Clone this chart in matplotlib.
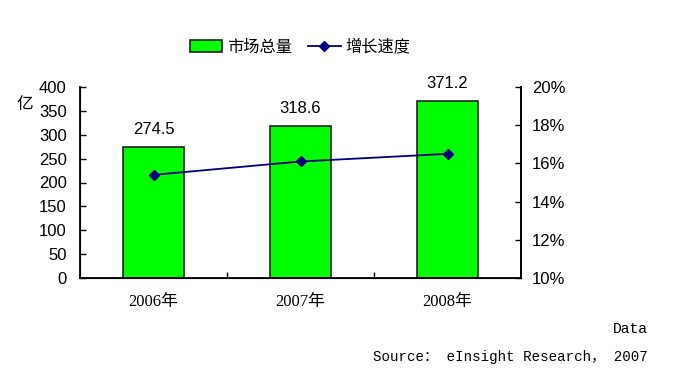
import numpy as np
import matplotlib
matplotlib.use('Agg')
import matplotlib.pyplot as plt
from matplotlib.ticker import FuncFormatter

# data
years = ['2006年', '2007年', '2008年']
market_total = [274.5, 318.6, 371.2]   # 亿
growth_rate = [15.4, 16.1, 16.5]       # %

sans = ['Liberation Sans', 'Noto Sans CJK SC']
cjk = ['Noto Sans CJK SC', 'DejaVu Sans']
serif = ['Liberation Serif', 'Noto Sans CJK SC']
mono = ['Liberation Mono', 'Noto Sans CJK SC']

plt.rcParams['font.family'] = sans

fig = plt.figure(figsize=(6.76, 3.75), dpi=100)
ax = fig.add_axes([80 / 676, 1 - 278 / 375, 441 / 676, 191 / 375])
x = np.arange(len(years))

bars = ax.bar(x, market_total, width=0.41, color='#00ff00', edgecolor='#222222',
              linewidth=1.2, label='市场总量', zorder=2)
for xi, v in zip(x, market_total):
    ax.text(xi, v + 37, f'{v:.1f}', ha='center', va='center', fontsize=12)

ax.set_xlim(-0.5, 2.5)
ax.set_ylim(0, 400)
ax.set_yticks(np.arange(0, 401, 50))
ax.set_xticks([0.5, 1.5])
ax.set_xticklabels([])
ax.tick_params(axis='x', direction='in', length=4, width=1)
ax.tick_params(axis='y', direction='in', length=4, width=1, labelsize=12, pad=9.5)
for xi, lab in zip(x, years):
    ax.text(xi, -50, lab, ha='center', va='center', fontsize=12, family=serif,
            clip_on=False)
ax.spines['top'].set_visible(False)
for s in ['left', 'bottom', 'right']:
    ax.spines[s].set_linewidth(1.3)

ax2 = ax.twinx()
line, = ax2.plot(x, growth_rate, color='#000080', marker='D', markersize=5,
                 linewidth=1.3, label='增长速度', zorder=3)
ax2.set_ylim(10, 20)
ax2.set_yticks(np.arange(10, 21, 2))
ax2.yaxis.set_major_formatter(FuncFormatter(lambda v, p: f'{v:.0f}%'))
ax2.tick_params(axis='y', direction='in', length=4, width=1, labelsize=12, pad=8)
ax2.spines['top'].set_visible(False)
ax2.spines['right'].set_linewidth(1.3)

fig.text(25 / 676, 1 - 104 / 375, '亿', ha='center', va='center', fontsize=12, family=cjk)

fig.legend(handles=[bars, line], loc='center', bbox_to_anchor=(300 / 676, 1 - 47 / 375),
           ncol=2, frameon=False, prop={'family': cjk, 'size': 11.7},
           handlelength=2.0, handleheight=0.75, columnspacing=1.0, handletextpad=0.3)

fig.text(648 / 676, 1 - 329 / 375, 'Data', ha='right', va='center', fontsize=10.5, family=mono)
fig.text(648 / 676, 1 - 357 / 375, 'Source： eInsight Research， 2007', ha='right',
         va='center', fontsize=10.2, family=mono)

fig.savefig('out.png', dpi=100)
